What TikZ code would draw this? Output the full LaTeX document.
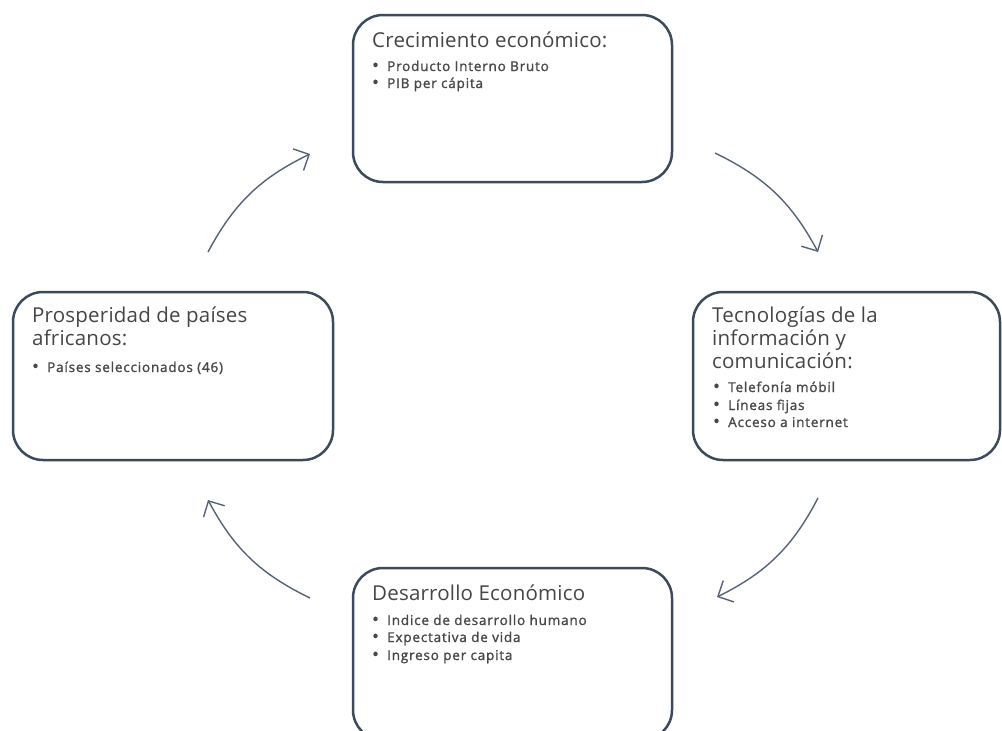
\documentclass[tikz,border=0pt]{standalone}
\usepackage{fontspec}
\setmainfont{Open Sans}
\newfontfamily\titlefont[LetterSpace=1]{Open Sans}
\newfontfamily\itemfont[LetterSpace=6,FakeBold=1.5]{Open Sans}
\usetikzlibrary{arrows.meta}
\definecolor{boxline}{HTML}{3C4A5C}
\definecolor{arrowcol}{HTML}{56627A}
\definecolor{titlecol}{HTML}{454545}
\definecolor{itemcol}{HTML}{484848}
\tikzset{
  card/.style={draw=boxline, line width=2.5pt, rounded corners=30pt},
  ttl/.style={anchor=base west, inner sep=0pt, text=titlecol, font=\titlefont\fontsize{20.5}{23}\selectfont},
  itm/.style={anchor=base west, inner sep=0pt, text=itemcol, font=\itemfont\fontsize{13.5}{17}\selectfont},
  cyc/.style={draw=arrowcol, line width=1.4pt, -{Straight Barb[length=12pt,width=24pt,line width=1.4pt]}}
}
\newcommand{\bul}[1]{\makebox[15pt][l]{\raisebox{-0.3pt}{\scalebox{1.3}{•}}}#1}
\begin{document}
\begin{tikzpicture}[x=1pt,y=-1pt]
\useasboundingbox (0,0) rectangle (1002,731);
\clip (0,0) rectangle (1002,731);
% boxes
\draw[card] (353,15) rectangle (672,182);
\draw[card] (693,292) rectangle (1000,460);
\draw[card] (13,292) rectangle (333,460);
\draw[card] (353,568) rectangle (672,740);
% top box
\node[ttl] (t1) at (372,47) {Crecimiento económico:};
\node[itm] (t1a) at (372,71) {\bul{Producto Interno Bruto}};
\node[itm] (t1b) at (372,88) {\bul{PIB per cápita}};
% right box
\node[ttl] (r1) at (712,322) {Tecnologías de la};
\node[ttl] (r2) at (712,345) {información y};
\node[ttl] (r3) at (712,368) {comunicación:};
\node[itm] (r1a) at (713,392) {\bul{Telefonía móbil}};
\node[itm] (r1b) at (713,410) {\bul{Líneas fijas}};
\node[itm] (r1c) at (713,427) {\bul{Acceso a internet}};
% left box
\node[ttl] (l1) at (32,322) {Prosperidad de países};
\node[ttl] (l2) at (32,345) {africanos:};
\node[itm] (l1a) at (32,372) {\bul{Países seleccionados (46)}};
% bottom box
\node[ttl] (b1) at (372,600) {Desarrollo Económico};
\node[itm] (b1a) at (372,625) {\bul{Indice de desarrollo humano}};
\node[itm] (b1b) at (372,642) {\bul{Expectativa de vida}};
\node[itm] (b1c) at (372,660) {\bul{Ingreso per capita}};
% arrow endpoints
\coordinate (a1s) at (208,252); \coordinate (a1e) at (310,154);
\coordinate (a2s) at (715,153); \coordinate (a2e) at (818,252);
\coordinate (a3s) at (818,498); \coordinate (a3e) at (717,597);
\coordinate (a4s) at (310,598); \coordinate (a4e) at (208,500);
\draw[cyc] (a1s) to[bend left=18] (a1e);
\draw[cyc] (a2s) to[bend left=18] (a2e);
\draw[cyc] (a3s) to[bend left=18] (a3e);
\draw[cyc] (a4s) to[bend left=18] (a4e);
\end{tikzpicture}
\end{document}
